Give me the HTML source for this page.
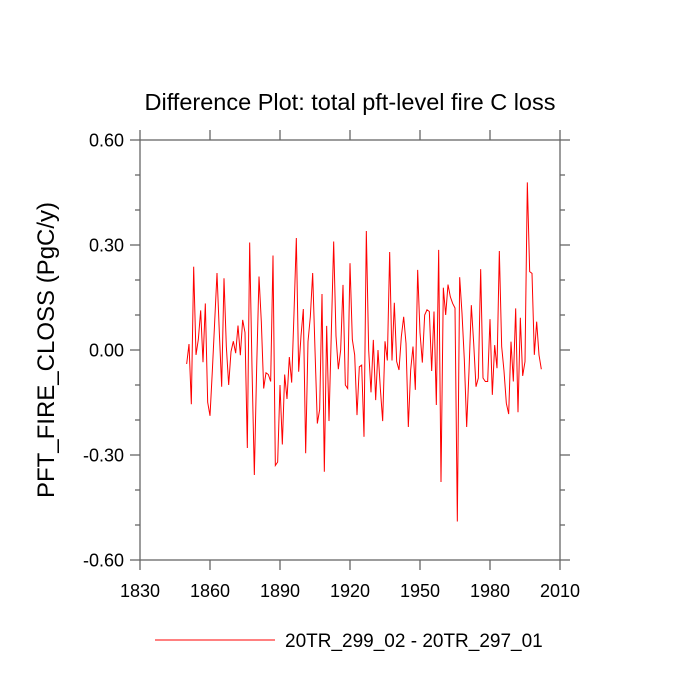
<!DOCTYPE html>
<html><head><meta charset="utf-8"><style>
html,body{margin:0;padding:0;background:#fff;}
svg{display:block;font-family:"Liberation Sans",sans-serif;}
</style></head><body>
<svg id="chart" width="700" height="700">
<text x="350" y="110" text-anchor="middle" font-size="23.5">Difference Plot: total pft-level fire C loss</text>
<text transform="translate(54,350) rotate(-90)" text-anchor="middle" font-size="24">PFT_FIRE_CLOSS  (PgC/y)</text>
<g id="axes"></g>
<g id="series"></g>
<line x1="155" y1="640" x2="275" y2="640" stroke="#f00" stroke-width="1"/>
<text x="285" y="647" font-size="19">20TR_299_02 - 20TR_297_01</text>
</svg>
<script>
const startYear = 1850;
const values = [-0.04,0.017,-0.155,0.238,-0.014,0.03,0.113,-0.035,0.133,-0.149,-0.188,-0.06,0.08,0.22,0.05,-0.105,0.205,0.01,-0.1,-0.005,0.025,-0.009,0.07,-0.015,0.086,0.05,-0.28,0.307,-0.05,-0.357,-0.05,0.21,0.08,-0.11,-0.065,-0.07,-0.09,0.27,-0.33,-0.32,-0.1,-0.27,-0.07,-0.14,-0.02,-0.093,0.105,0.32,-0.062,
0.04,0.117,-0.295,0.024,0.095,0.22,0.0,-0.21,-0.17,0.16,-0.348,0.069,-0.203,0.05,0.31,0.04,-0.055,0.0,0.186,-0.1,-0.11,0.248,0.03,-0.014,-0.186,-0.048,-0.043,-0.248,0.34,0.0,-0.121,0.029,-0.143,0.0,-0.11,-0.203,0.025,-0.03,0.28,-0.03,0.135,-0.033,-0.057,0.038,0.095,0.019,-0.22,-0.057,0.01,-0.114,0.229,0.05,-0.036,
0.1,0.115,0.11,-0.06,0.11,-0.157,0.286,-0.377,0.178,0.1,0.187,0.152,0.133,0.12,-0.49,0.208,0.105,-0.028,-0.22,-0.06,0.128,0.02,-0.105,-0.08,0.231,-0.08,-0.09,-0.09,0.088,-0.128,0.014,-0.052,0.283,0.01,-0.06,-0.152,-0.183,0.024,-0.09,0.119,-0.178,0.092,-0.074,-0.033,0.479,0.224,0.219,-0.014,0.081,-0.014,-0.055];
const xTicks = [1830,1860,1890,1920,1950,1980,2010];
const yTicks = [-0.6,-0.3,0,0.3,0.6];
const yTickLabels = ["-0.60","-0.30","0.00","0.30","0.60"];
const yMinor = [-0.5,-0.4,-0.2,-0.1,0.1,0.2,0.4,0.5];

const L=140,R=560,T=140,B=560;
const xs = v => L + (v-1830)/(2010-1830)*(R-L);
const ys = v => B - (v+0.6)/1.2*(B-T);
const NS="http://www.w3.org/2000/svg";
const axes=document.getElementById('axes');
function mk(tag,attrs,parent){const e=document.createElementNS(NS,tag);for(const k in attrs)e.setAttribute(k,attrs[k]);parent.appendChild(e);return e;}
const frame=mk('rect',{x:L,y:T,width:R-L,height:B-T,fill:'none',stroke:'#666','stroke-width':1.3},axes);


xTicks.forEach(t=>{
  const x=xs(t);
  mk('line',{x1:x,y1:B,x2:x,y2:B+10,stroke:'#666','stroke-width':1.3},axes);
  mk('line',{x1:x,y1:T,x2:x,y2:T-10,stroke:'#666','stroke-width':1.3},axes);
  const tx=mk('text',{x:x,y:B+37,'text-anchor':'middle','font-size':18},axes);
  tx.textContent=t;
  
  
});
yTicks.forEach((t,i)=>{
  const y=ys(t);
  mk('line',{x1:L,y1:y,x2:L-10,y2:y,stroke:'#666','stroke-width':1.3},axes);
  mk('line',{x1:R,y1:y,x2:R+10,y2:y,stroke:'#666','stroke-width':1.3},axes);
  const tx=mk('text',{x:L-16,y:y+6.5,'text-anchor':'end','font-size':18},axes);
  tx.textContent=yTickLabels[i];
  
  
});
yMinor.forEach(t=>{
  const y=ys(t);
  mk('line',{x1:L,y1:y,x2:L-5,y2:y,stroke:'#666','stroke-width':1.3},axes);
  mk('line',{x1:R,y1:y,x2:R+5,y2:y,stroke:'#666','stroke-width':1.3},axes);
});
const pts=values.map((v,i)=>xs(startYear+i).toFixed(2)+','+ys(v).toFixed(2)).join(' ');
const pl=mk('polyline',{points:pts,fill:'none',stroke:'#f00','stroke-width':1},document.getElementById('series'));


</script>
</body></html>
